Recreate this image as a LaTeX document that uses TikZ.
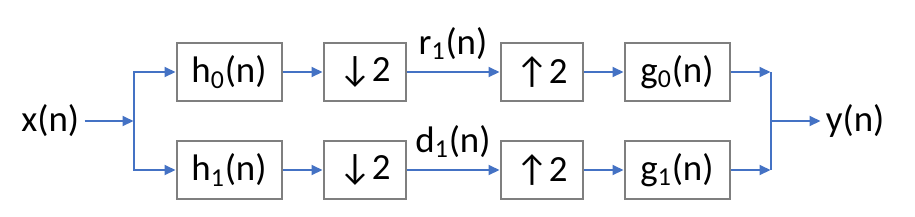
\documentclass[tikz,border=0pt]{standalone}
\usepackage{fontspec}
\setmainfont{Carlito}
\usetikzlibrary{arrows.meta,positioning}
\definecolor{sigblue}{RGB}{68,114,196}
\definecolor{boxgray}{RGB}{127,127,127}

\begin{document}
\begin{tikzpicture}[
        >={Triangle[length=0.22cm,width=0.2cm]},
        node distance=0.8cm,
        every node/.style={font=\fontsize{21}{25}\selectfont},
        block/.style={draw=boxgray, line width=0.04cm, minimum height=1.16cm, inner sep=0pt},
        filt/.style={block, minimum width=2.1cm},
        rate/.style={block, minimum width=1.64cm},
        sig/.style={draw=sigblue, line width=0.04cm},
        lbl/.style={above, yshift=3pt}
    ]
        \useasboundingbox (0,0) rectangle (18.3,-4.32);

        % upper branch
        \node[filt] (h0) at (4.58,-1.44) {h\textsubscript{0}(n)};
        \node[rate, right=of h0] (dn0) {↓2};
        \node[rate, right=1.86cm of dn0] (up0) {↑2};
        \node[filt, right=of up0] (g0) {g\textsubscript{0}(n)};

        % lower branch
        \node[filt, below=0.76cm of h0] (h1) {h\textsubscript{1}(n)};
        \node[rate, right=of h1] (dn1) {↓2};
        \node[rate, right=1.86cm of dn1] (up1) {↑2};
        \node[filt, right=of up1] (g1) {g\textsubscript{1}(n)};

        % split and merge points
        \path (h0.west) -- coordinate[midway] (midin) (h1.west);
        \coordinate[left=0.84cm of midin] (split);
        \path (g0.east) -- coordinate[midway] (midout) (g1.east);
        \coordinate[right=0.8cm of midout] (merge);

        \node[left=0.98cm of split, inner sep=0.1cm] (x) {x(n)};
        \node[right=1.0cm of merge, inner sep=0.1cm] (y) {y(n)};

        \draw[sig, ->] (x) -- (split);
        \draw[sig, ->] (split) |- (h0.west);
        \draw[sig, ->] (split) |- (h1.west);

        \draw[sig, ->] (h0) -- (dn0);
        \draw[sig, ->] (dn0) -- node[lbl] (r1) {r\textsubscript{1}(n)} (up0);
        \draw[sig, ->] (up0) -- (g0);
        \draw[sig, ->] (h1) -- (dn1);
        \draw[sig, ->] (dn1) -- node[lbl] (d1) {d\textsubscript{1}(n)} (up1);
        \draw[sig, ->] (up1) -- (g1);

        \draw[sig, ->] (g0) -- (g0 -| merge);
        \draw[sig, ->] (g1) -- (g1 -| merge);
        \draw[sig] (g0 -| merge) -- (g1 -| merge);
        \draw[sig, ->] (merge) -- (y);
    \end{tikzpicture}
\end{document}
